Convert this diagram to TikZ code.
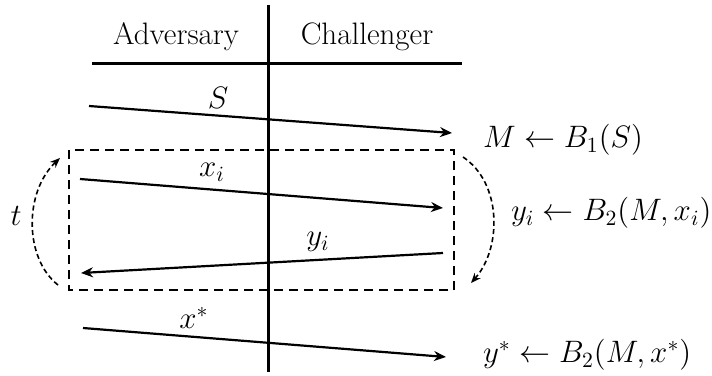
\documentclass[tikz,border=0pt]{standalone}
\usepackage{fix-cm}
\usepackage{amsmath,amssymb}
\usetikzlibrary{arrows.meta,calc,positioning}

\tikzset{
  msg/.style={line width=1.1pt,-{Stealth[length=6pt,width=5pt]}},
  loopbox/.style={line width=1pt,dash pattern=on 4.5pt off 3pt},
  rep/.style={line width=0.8pt,dash pattern=on 2.5pt off 1.6pt,-{Stealth[length=5pt,width=4pt]}},
}

\begin{document}
\begin{tikzpicture}[x=0.5pt,y=-0.5pt,font=\fontsize{15.5}{19}\selectfont]
  \useasboundingbox (0,0) rectangle (712,375);
  % table head
  \coordinate (vtop) at (268,5);
  \coordinate (vbot) at (268,372);
  \coordinate (hl) at (92,63);
  \coordinate (hr) at (462,63);
  \draw[line width=1.5pt] (vtop) -- (vbot);
  \draw[line width=1.5pt] (hl) -- (hr);
  \node (adv) at (176,37) {Adversary};
  \node (chal) at (367,37) {Challenger};
  % messages
  \coordinate (s0) at (89,106);
  \coordinate (s1) at (452,133);
  \draw[msg] (s0) -- (s1);
  \node (lblS) at (218,98) {$S$};
  \node[right] (outM) at (476,140) {$M \leftarrow B_1(S)$};
  \coordinate (x0) at (80,179);
  \coordinate (x1) at (443,208);
  \draw[msg] (x0) -- (x1);
  \node (lblx) at (212,172) {$x_i$};
  \node[right] (outy) at (504,213) {$y_i \leftarrow B_2(M,x_i)$};
  \coordinate (y0) at (443,253);
  \coordinate (y1) at (81,273);
  \draw[msg] (y0) -- (y1);
  \node (lbly) at (318,242) {$y_i$};
  \coordinate (z0) at (83,328);
  \coordinate (z1) at (446,357);
  \draw[msg] (z0) -- (z1);
  \node (lblz) at (194,318) {$x^*$};
  \node[right] (outz) at (476,355) {$y^* \leftarrow B_2(M,x^*)$};
  % repeated part
  \draw[loopbox] (69,150) rectangle (454,290);
  \coordinate (la) at (58,285);
  \coordinate (lb) at (60,158);
  \draw[rep] (la) .. controls (24,258) and (24,192) .. (lb);
  \node (lblt) at (16,216) {$t$};
  \coordinate (ra) at (463,157);
  \coordinate (rb) at (471,283);
  \draw[rep] (ra) .. controls (502,183) and (502,248) .. (rb);
\end{tikzpicture}
\end{document}
